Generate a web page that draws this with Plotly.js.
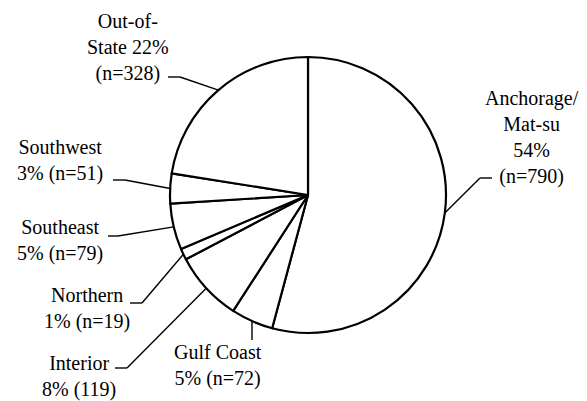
<!DOCTYPE html>
<html><head><meta charset="utf-8">
<script src="https://cdn.plot.ly/plotly-3.0.1.min.js"></script>
<style>html,body{margin:0;padding:0;background:#fff;}#chart{width:587px;height:401px;}</style>
</head><body><div id="chart"></div>
<script>
// ---- data ----
const regions = ['Anchorage/Mat-su', 'Gulf Coast', 'Interior', 'Northern', 'Southeast', 'Southwest', 'Out-of-State'];
const counts = [790, 72, 119, 19, 79, 51, 328];
const labelTexts = [
  'Anchorage/<br>Mat-su<br>54%<br>(n=790)',
  'Gulf Coast<br>5% (n=72)',
  'Interior<br>8% (119)',
  'Northern<br>1% (n=19)',
  'Southeast<br>5% (n=79)',
  'Southwest<br>3% (n=51)',
  'Out-of-<br>State 22%<br>(n=328)'
];

// ---- layout (pixels) ----
const W = 587, H = 401, CX = 308, CY = 195, R = 138;
const labelPos    = [[532, 137.75], [217.5, 365.5], [78.5, 376.5], [87, 308], [60, 240.5], [59.5, 160.5], [128, 47]];
const leaderStart = [[492, 178], [null, 340], [115, 368], [130, 303], [108, 236], [113, 180], [168, 77]];
const leaderElbow = [[480, 178], [null, 340], [127, 368], [142, 303], [118, 236], [125, 180], [180, 77]];

const px = x => x / W;
const py = y => 1 - y / H;

const total = counts.reduce((a, b) => a + b, 0);
let cum = 0;
const edges = counts.map(v => {
  const mid = (cum + v / 2) / total * 2 * Math.PI;
  cum += v;
  return [CX + R * Math.sin(mid), CY - R * Math.cos(mid)];
});

const shapes = [];
const lineStyle = {color: '#000', width: 1.4};
edges.forEach((e, i) => {
  let s = leaderStart[i].slice(), b = leaderElbow[i].slice();
  if (s[0] === null) s[0] = e[0];
  if (b[0] === null) b[0] = e[0];
  if (s[0] !== b[0] || s[1] !== b[1]) {
    shapes.push({type: 'line', xref: 'paper', yref: 'paper', x0: px(s[0]), y0: py(s[1]), x1: px(b[0]), y1: py(b[1]), line: lineStyle});
  }
  shapes.push({type: 'line', xref: 'paper', yref: 'paper', x0: px(b[0]), y0: py(b[1]), x1: px(e[0]), y1: py(e[1]), line: lineStyle});
});

const annotations = labelTexts.map((t, i) => ({
  xref: 'paper', yref: 'paper', x: px(labelPos[i][0]), y: py(labelPos[i][1]),
  xanchor: 'center', yanchor: 'middle', align: 'center', showarrow: false,
  text: t,
  font: {family: 'Liberation Serif', size: 20, color: '#000'}
}));

const trace = {
  type: 'pie', values: counts, labels: regions, sort: false, direction: 'clockwise', rotation: 0,
  textinfo: 'none', hoverinfo: 'none', showlegend: false,
  marker: {colors: counts.map(() => '#ffffff'), line: {color: '#000', width: 2.2}},
  domain: {x: [px(CX - R), px(CX + R)], y: [py(CY + R), py(CY - R)]}
};

Plotly.newPlot('chart', [trace], {
  width: W, height: H, margin: {l: 0, r: 0, t: 0, b: 0},
  paper_bgcolor: '#fff', plot_bgcolor: '#fff', showlegend: false,
  shapes: shapes, annotations: annotations
}, {displayModeBar: false});
</script></body></html>
